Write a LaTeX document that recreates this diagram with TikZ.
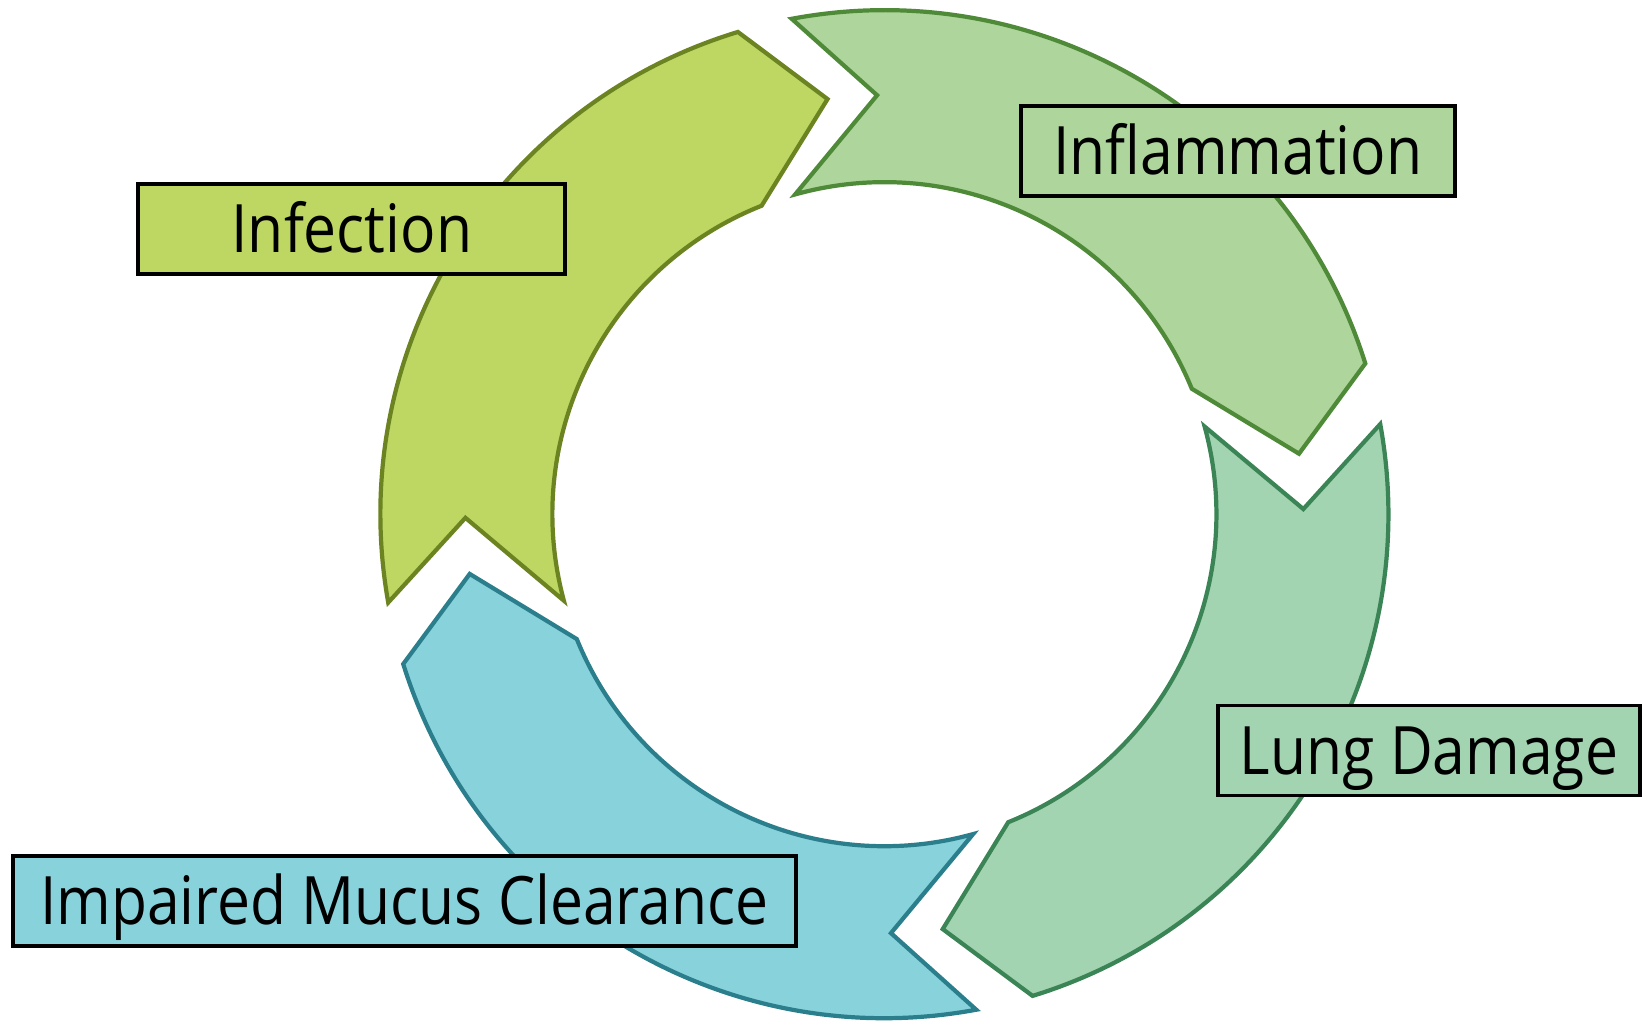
\documentclass[tikz,border=0pt]{standalone}
\usepackage{fontspec}
\setmainfont{Open Sans}[FakeStretch=0.88]
\usepackage{xcolor}
\usetikzlibrary{positioning}
\definecolor{infectfill}{HTML}{BED763}
\definecolor{infectline}{HTML}{6C8322}
\definecolor{inflamfill}{HTML}{AED69C}
\definecolor{inflamline}{HTML}{4E8A38}
\definecolor{lungfill}{HTML}{A3D4B1}
\definecolor{lungline}{HTML}{3B8456}
\definecolor{mucusfill}{HTML}{88D2DC}
\definecolor{mucusline}{HTML}{2B7F8C}

\begin{document}
\begin{tikzpicture}[font=\fontsize{19}{22}\selectfont,
  lbl/.style={draw=black, line width=1.1pt, minimum height=0.9cm, inner sep=0pt,
    text height=13.6pt, text depth=0pt},
  seg/.style={line width=1.2pt, line join=miter}]
\useasboundingbox (0,0) rectangle (16.42,10.23);
% ring of four notched arrows, running clockwise
\begin{scope}[shift={(8.844,5.088)}]
\foreach \a/\f/\l in {180.5/infectfill/infectline, 91/inflamfill/inflamline,
                      0.7/lungfill/lungline, 270.9/mucusfill/mucusline}
  \draw[seg, fill=\f, draw=\l] (\a+9.6:5.04)
    arc[start angle=\a+9.6, end angle=\a-73.6, radius=5.04]
    -- (\a-82.7:4.19) -- (\a-68.8:3.32)
    arc[start angle=\a-68.8, end angle=\a+14.6, radius=3.32]
    -- (\a:4.19) -- cycle;
\end{scope}
% labels on top
\node[lbl, fill=infectfill, minimum width=4.27cm] (infect) at (3.518,7.942) {Infection};
\node[lbl, fill=inflamfill, minimum width=4.34cm] (inflam) at (12.378,8.722) {Inflammation};
\node[lbl, fill=lungfill, minimum width=4.22cm] (lung) at (14.29,2.725) {Lung Damage};
\node[lbl, fill=mucusfill, minimum width=7.83cm] (mucus) at (4.042,1.224) {Impaired Mucus Clearance};
\end{tikzpicture}
\end{document}
